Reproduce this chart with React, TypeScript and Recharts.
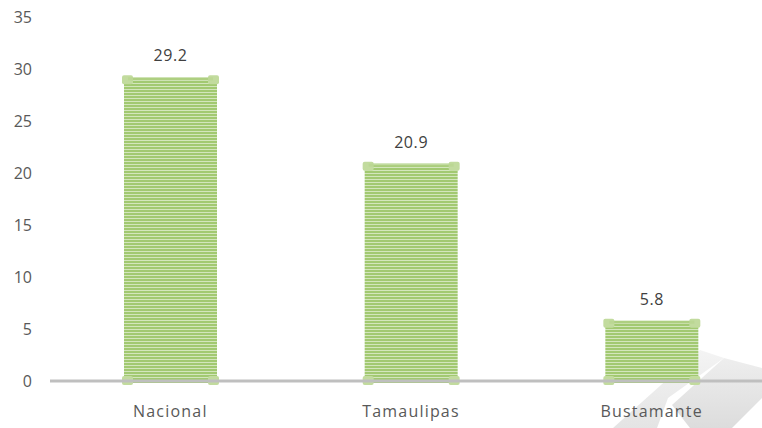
import React from 'react';
import { BarChart, Bar, XAxis, YAxis, LabelList, ReferenceLine, Customized } from 'recharts';

const categories = ['Nacional', 'Tamaulipas', 'Bustamante'];
const values = [29.2, 20.9, 5.8];
const yTicks = [0, 5, 10, 15, 20, 25, 30, 35];

const data = categories.map((name, i) => ({ name, value: values[i] }));

const FONT = '"Open Sans", sans-serif';

const StripedBar = (props: any) => {
  const { x, y, width, height } = props;
  const cw = 11;
  const ch = 9;
  const corner = '#C2DB9E';
  return (
    <g>
      <rect x={x} y={y} width={width} height={height + 2} fill="url(#stripes)" />
      <rect x={x - 2} y={y - 2} width={cw} height={ch} rx={2} fill={corner} />
      <rect x={x + width - cw + 2} y={y - 2} width={cw} height={ch} rx={2} fill={corner} />
      <rect x={x - 2} y={y + height - ch + 4} width={cw} height={ch} rx={2} fill={corner} />
      <rect x={x + width - cw + 2} y={y + height - ch + 4} width={cw} height={ch} rx={2} fill={corner} />
      <rect x={x + 4} y={y} width={width - 8} height={3} fill="#B5D48C" opacity={0.6} />
    </g>
  );
};

const Shadow = () => (
  <g>
    <defs>
      <linearGradient id="shadeA" x1="0" y1="0" x2="0" y2="1">
        <stop offset="0" stopColor="#F4F4F4" />
        <stop offset="1" stopColor="#E4E4E4" />
      </linearGradient>
      <linearGradient id="shadeB" x1="0" y1="0" x2="0" y2="1">
        <stop offset="0" stopColor="#EEEEEE" />
        <stop offset="1" stopColor="#DCDCDC" />
      </linearGradient>
    </defs>
    <polygon points="613,428 700,350 724,358 668,398 657,428" fill="url(#shadeA)" />
    <polygon points="690,428 672,405 724,358 762,368 762,398 732,428" fill="url(#shadeB)" />
  </g>
);

export default function App() {
  return (
    <div style={{ position: 'absolute', left: 0, top: 0, width: 762, height: 428, overflow: 'hidden', background: '#fff' }}>
      <BarChart width={772} height={428} data={data} margin={{ top: 17, right: 0, left: 0, bottom: 0 }}>
        <defs>
          <pattern id="stripes" width="4" height="3" patternUnits="userSpaceOnUse">
            <rect x="0" y="0" width="4" height="3" fill="#D3E6BC" />
            <rect x="0" y="0" width="4" height="2" fill="#A2C971" />
          </pattern>
        </defs>
        <Customized component={Shadow} />
        <XAxis
          dataKey="name"
          axisLine={false}
          tickLine={false}
          height={47}
          tickSize={0}
          tickMargin={25}
          tick={{ fill: '#595959', fontSize: 16, fontFamily: FONT, letterSpacing: 1.2 }}
        />
        <YAxis
          domain={[0, 35]}
          ticks={yTicks}
          axisLine={false}
          tickLine={false}
          width={50}
          tickSize={8}
          tickMargin={10}
          tick={{ fill: '#595959', fontSize: 16, fontFamily: FONT }}
        />
        <Bar dataKey="value" barSize={93} isAnimationActive={false} shape={<StripedBar />}>
          <LabelList dataKey="value" position="top" offset={16} fill="#404040" fontSize={16} fontFamily={FONT} letterSpacing={0.6} />
        </Bar>
        <ReferenceLine y={0} stroke="#BFBFBF" strokeWidth={3} />
      </BarChart>
    </div>
  );
}
